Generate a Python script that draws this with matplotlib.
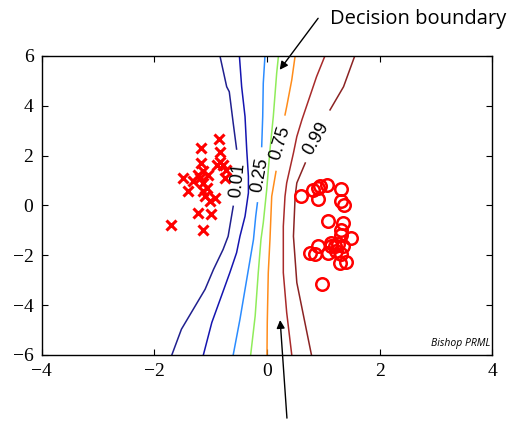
import numpy as np
import matplotlib.pyplot as plt

# class 1 points (crosses)
cross_x = [-0.85, -1.18, -0.84, -1.17, -0.84, -0.89, -0.78, -0.72, -1.13, -1.04, -1.22,
           -1.49, -1.31, -0.75, -1.13, -1.19, -1.40, -1.13, -1.10, -0.92, -1.01, -1.22,
           -1.00, -1.71, -1.13, -1.07]
cross_y = [2.67, 2.30, 2.14, 1.70, 1.76, 1.63, 1.63, 1.43, 1.36, 1.23, 1.23,
           1.10, 0.96, 1.10, 0.90, 1.10, 0.56, 0.56, 0.36, 0.30, 0.16, -0.30,
           -0.34, -0.77, -0.97, 0.70]

# class 2 points (circles)
circ_x = [0.60, 0.82, 0.91, 0.94, 1.07, 1.31, 0.91, 1.32, 1.37, 1.08, 1.35, 1.32,
          1.32, 1.50, 1.26, 0.91, 0.76, 0.86, 1.14, 1.08, 1.23, 1.32, 1.29, 1.41,
          1.20, 0.97, 1.14, 1.35]
circ_y = [0.36, 0.63, 0.70, 0.76, 0.80, 0.67, 0.27, 0.16, 0.00, -0.61, -0.70, -0.97,
          -1.17, -1.30, -1.57, -1.64, -1.90, -1.97, -1.64, -1.90, -1.84, -1.97, -2.30, -2.27,
          -1.64, -3.17, -1.50, -1.64]

nan = np.nan
# contour lines (nan = gap for the label)
c001_x = [-0.836, -0.716, -0.67, -0.60, -0.54, nan, -0.60, -0.69, -0.78, -0.95, -1.10, -1.31, -1.52, -1.69]
c001_y = [6.0, 4.76, 4.56, 3.30, 2.26, nan, -0.04, -1.24, -1.77, -2.57, -3.37, -4.17, -4.97, -6.0]
c010_x = [-0.49, -0.45, -0.39, -0.36, -0.33, -0.33, -0.39, -0.48, -0.54, -0.66, -0.81, -0.98, -1.13]
c010_y = [6.0, 4.76, 3.56, 2.23, 1.16, 0.50, -0.44, -1.24, -1.90, -2.70, -3.64, -4.70, -6.0]
c025_x = [-0.036, -0.066, -0.076, -0.094, nan, -0.17, -0.20, -0.24, -0.30, -0.39, -0.48, -0.60]
c025_y = [6.0, 4.90, 3.56, 2.36, nan, 0.10, -0.44, -1.37, -2.17, -3.37, -4.57, -6.0]
c050_x = [0.204, 0.172, 0.112, 0.053, -0.005, -0.066, -0.107, -0.155, -0.21, -0.29]
c050_y = [6.0, 5.30, 3.56, 2.23, 0.63, -0.70, -1.37, -2.70, -4.44, -6.0]
c075_x = [0.50, 0.44, 0.35, 0.32, nan, 0.16, 0.084, 0.053, 0.023, 0.005, 0.0]
c075_y = [6.0, 5.03, 3.96, 3.63, nan, 1.36, 0.36, -1.37, -2.70, -4.70, -6.0]
c090_x = [1.03, 0.88, 0.76, 0.62, 0.53, 0.47, 0.35, 0.32, 0.29, 0.29, 0.35, 0.44]
c090_y = [6.0, 5.16, 4.36, 3.43, 2.76, 2.10, 0.90, 0.36, -0.84, -2.70, -4.30, -6.0]
c099_x = [1.56, 1.36, 1.12, nan, 0.68, 0.53, 0.50, 0.47, 0.53, 0.65, 0.79]
c099_y = [6.0, 4.76, 3.83, nan, 1.70, 0.90, 0.36, -1.24, -3.10, -4.44, -6.0]

labels = ["0.01", "0.25", "0.75", "0.99"]
label_x = [-0.53, -0.12, 0.23, 0.88]
label_y = [1.02, 1.23, 2.50, 2.70]
label_rot = [84, 80, 73, 60]

fig = plt.figure(figsize=(5.1, 4.23), dpi=100)
ax = fig.add_axes([0.082, 0.161, 0.883, 0.707])

ax.plot(c001_x, c001_y, color="#20208f", lw=1.1)
ax.plot(c010_x, c010_y, color="#1515b0", lw=1.1)
ax.plot(c025_x, c025_y, color="#2b8cff", lw=1.1)
ax.plot(c050_x, c050_y, color="#8fec5a", lw=1.1)
ax.plot(c075_x, c075_y, color="#ff8c1a", lw=1.1)
ax.plot(c090_x, c090_y, color="#a82a2a", lw=1.1)
ax.plot(c099_x, c099_y, color="#8b2323", lw=1.1)

for t, x, y, r in zip(labels, label_x, label_y, label_rot):
    ax.text(x, y, t, rotation=r, rotation_mode="anchor", ha="center", va="center",
            fontsize=13, family="Liberation Sans")

ax.plot(cross_x, cross_y, "x", color="red", ms=6.5, mew=2.2)
ax.plot(circ_x, circ_y, "o", mfc="none", mec="red", ms=9, mew=1.8)

ax.set_xlim(-4, 4)
ax.set_ylim(-6, 6)
ax.set_xticks([-4, -2, 0, 2, 4])
ax.set_yticks([-6, -4, -2, 0, 2, 4, 6])
ax.tick_params(direction="in", length=4, top=True, right=True, labelsize=14, pad=6)
for lab in ax.get_xticklabels() + ax.get_yticklabels():
    lab.set_family("Liberation Serif")
for s in ax.spines.values():
    s.set_linewidth(1.0)

ax.text(0.995, 0.02, "Bishop PRML", transform=ax.transAxes, ha="right", va="bottom",
        fontsize=7.5, style="italic", family="Open Sans")

ax.annotate("", xy=(0.196, 5.35), xycoords="data", xytext=(0.627, 0.962),
            textcoords="figure fraction",
            arrowprops=dict(arrowstyle="-|>", color="k", lw=1, mutation_scale=12),
            annotation_clip=False)
fig.text(0.647, 0.955, "Decision boundary", ha="left", va="center", fontsize=14.5,
         family="Open Sans")
ax.annotate("", xy=(0.23, -4.49), xycoords="data", xytext=(0.563, 0.005),
            textcoords="figure fraction",
            arrowprops=dict(arrowstyle="-|>", color="k", lw=1, mutation_scale=12),
            annotation_clip=False)

fig.savefig("out.png", dpi=100)
